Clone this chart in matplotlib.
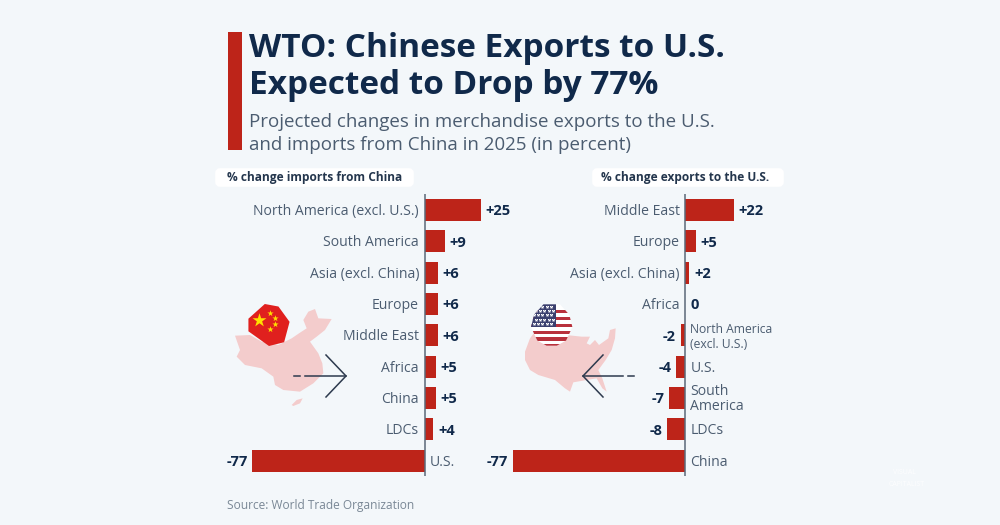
import matplotlib
matplotlib.use("Agg")
import matplotlib.pyplot as plt
from matplotlib.patches import Polygon, Rectangle, FancyBboxPatch

plt.rcParams['font.family'] = ['Open Sans', 'DejaVu Sans']

# ---- data ----
import_regions = ["North America (excl. U.S.)", "South America", "Asia (excl. China)", "Europe",
                  "Middle East", "Africa", "China", "LDCs", "U.S."]
import_values = [25, 9, 6, 6, 6, 5, 5, 4, -77]
export_regions = ["Middle East", "Europe", "Asia (excl. China)", "Africa",
                  "North America\n(excl. U.S.)", "U.S.", "South\nAmerica", "LDCs", "China"]
export_values = [22, 5, 2, 0, -2, -4, -7, -8, -77]

title = "WTO: Chinese Exports to U.S.\nExpected to Drop by 77%"
subtitle = "Projected changes in merchandise exports to the U.S.\nand imports from China in 2025 (in percent)"
source = "Source: World Trade Organization"

# ---- style ----
W, H = 1000, 525
BG = "#f3f7fa"
RED = "#bd2419"
NAVY = "#10294a"
GREY = "#4b5c70"
SCALE = 2.24
ROW = 31.33
Y0 = 210
NUDGE = 0.045

fig = plt.figure(figsize=(W / 100, H / 100), dpi=100, facecolor=BG)

deco = fig.add_axes([0, 0, 1, 1], zorder=0)
deco.set_xlim(0, W)
deco.set_ylim(H, 0)
deco.axis("off")

def chart(zero_px, left_px, right_px, regions, values):
    top, bottom = 194, 476
    ax = fig.add_axes([left_px / W, 1 - bottom / H, (right_px - left_px) / W, (bottom - top) / H], zorder=2)
    ax.patch.set_alpha(0)
    ax.set_xlim((left_px - zero_px) / SCALE, (right_px - zero_px) / SCALE)
    ax.set_ylim((bottom - Y0) / ROW, (top - Y0) / ROW)
    ax.axis("off")
    pos = list(range(len(values)))
    ax.barh(pos, values, height=0.71, color=RED, linewidth=0)
    ax.axvline(0, color="#5b6878", lw=1.1)
    for i, (r, v) in enumerate(zip(regions, values)):
        y = i + NUDGE
        if v < 0:
            ax.text(v - 2, y, str(v), ha="right", va="center", fontsize=10.5, fontweight="bold", color=NAVY)
            small = r.startswith("North")
            ax.text(2.4, y, r, ha="left", va="center", fontsize=8.7 if small else 10.1, color=GREY,
                    linespacing=1.2 if small else 1.0)
        else:
            off = 2 if v else 2.4
            ax.text(v + off, y, f"+{v}" if v else "0", ha="left", va="center",
                    fontsize=10.5, fontweight="bold", color=NAVY)
            ax.text(-2.4, y, r, ha="right", va="center", fontsize=10.1, color=GREY)
    return ax

chart(424.5, 225, 520, import_regions, import_values)
chart(685, 490, 790, export_regions, export_values)

# title block
deco.add_patch(Rectangle((228, 32), 14, 118, color=RED, lw=0))
deco.text(249, 57, title.split("\n")[0], fontsize=24, fontweight="bold", color=NAVY, va="baseline", ha="left")
deco.text(249, 94, title.split("\n")[1], fontsize=24, fontweight="bold", color=NAVY, va="baseline", ha="left")
deco.text(249, 127, subtitle.split("\n")[0], fontsize=13.5, color=GREY, va="baseline", ha="left")
deco.text(249, 150, subtitle.split("\n")[1], fontsize=13.5, color=GREY, va="baseline", ha="left")
deco.text(227, 505.5, source, fontsize=8.55, color="#7a8896", va="center", ha="left")

# column headers
for x0, x1, tx, s in [(215, 414, 227, "% change imports from China"),
                      (592, 784, 601, "% change exports to the U.S.")]:
    deco.add_patch(FancyBboxPatch((x0 + 3, 171), x1 - x0 - 6, 13, boxstyle="round,pad=0,rounding_size=2",
                                  mutation_aspect=1, fc="white", ec="white", lw=4))
    deco.text(tx, 177.5, s, fontsize=8.6, fontweight="bold", color="#24364d", va="center", ha="left")

PINK = "#f3cccc"
# China map
cx, cy = 225, 295
china = [(30,122),(75,120),(110,140),(160,150),(200,130),(222,115),(245,100),(235,75),(250,50),(270,42),
         (280,70),(320,72),(300,105),(275,125),(255,140),(280,175),(292,205),(295,235),(265,265),(225,290),
         (175,285),(150,270),(145,245),(110,220),(60,210),(35,185),(45,165)]
deco.add_patch(Polygon([(cx + x / 3, cy + y / 3) for x, y in china], fc=PINK, ec="none"))
hainan = [(200,330),(215,315),(233,310),(225,325),(205,333)]
deco.add_patch(Polygon([(cx + x / 3, cy + y / 3) for x, y in hainan], fc=PINK, ec="none"))
# US map
ux, uy = 515, 295
usa = [(30,170),(45,130),(60,110),(200,125),(225,125),(215,145),(225,150),(240,135),(252,150),(280,130),
       (285,105),(302,100),(300,130),(290,165),(272,195),(250,225),(262,250),(275,290),(262,280),(245,250),
       (215,255),(175,262),(165,290),(150,280),(120,255),(70,240),(45,225),(30,195)]
deco.add_patch(Polygon([(ux + x / 3, uy + y / 3) for x, y in usa], fc=PINK, ec="none"))

# flags
hepta = [(-0.2,-1.0),(0.45,-0.88),(0.98,-0.15),(0.72,0.82),(0.0,1.0),(-0.98,0.3),(-0.98,-0.3)]
cn = Polygon([(269 + 21 * x, 325 + 21 * y) for x, y in hepta], fc="#e0201e", ec="none", zorder=3,
             joinstyle="round")
deco.add_patch(cn)
deco.scatter([259], [320], marker="*", s=110, color="#ffe000", lw=0, zorder=4)
deco.scatter([270, 275, 275, 270], [313, 318, 324, 329], marker="*", s=22, color="#ffe000", lw=0, zorder=4)

octa = [(-0.4,-1.0),(0.4,-1.0),(0.85,-0.5),(1.0,0.1),(0.7,0.75),(0.25,1.0),(-0.25,1.0),(-0.7,0.75),(-1.0,0.1),(-0.85,-0.5)]
us = Polygon([(551.7 + 20.7 * x, 325 + 20.7 * y) for x, y in octa], fc="white", ec="none", zorder=3)
deco.add_patch(us)
for k in range(6):
    r = Rectangle((528, 310 + k * 6.85), 50, 3.3, fc="#b8313c", ec="none", zorder=3.1)
    deco.add_patch(r)
    r.set_clip_path(us)
r = Rectangle((528, 303), 28, 24, fc="#3a3f6e", ec="none", zorder=3.2)
deco.add_patch(r)
r.set_clip_path(us)
sx = [534 + 4.2 * i + (2 if j % 2 else 0) for j in range(5) for i in range(5)]
sy = [307 + 4.2 * j for j in range(5) for i in range(5)]
stars = deco.scatter(sx, sy, marker="*", s=7, color="white", lw=0, zorder=3.3)
stars.set_clip_path(us)

# arrows
ARW = "#2d3a4e"
deco.plot([326, 346, 326], [355, 376, 397], color=ARW, lw=1.1, solid_joinstyle="miter", zorder=4)
deco.plot([305, 346], [376, 376], color=ARW, lw=1.1, zorder=4)
deco.plot([294, 300], [376, 376], color=ARW, lw=1.1, zorder=4)
deco.plot([603, 583, 603], [355, 376, 397], color=ARW, lw=1.1, solid_joinstyle="miter", zorder=4)
deco.plot([583, 623], [376, 376], color=ARW, lw=1.1, zorder=4)
deco.plot([628, 634], [376, 376], color=ARW, lw=1.1, zorder=4)

# watermark
deco.text(893, 473, "VISUAL", fontsize=5, color="white", va="center", ha="left", alpha=0.8)
deco.text(889, 484, "CAPITALIST", fontsize=5, color="white", va="center", ha="left", alpha=0.8)

fig.savefig("out.png", dpi=100, facecolor=BG)
